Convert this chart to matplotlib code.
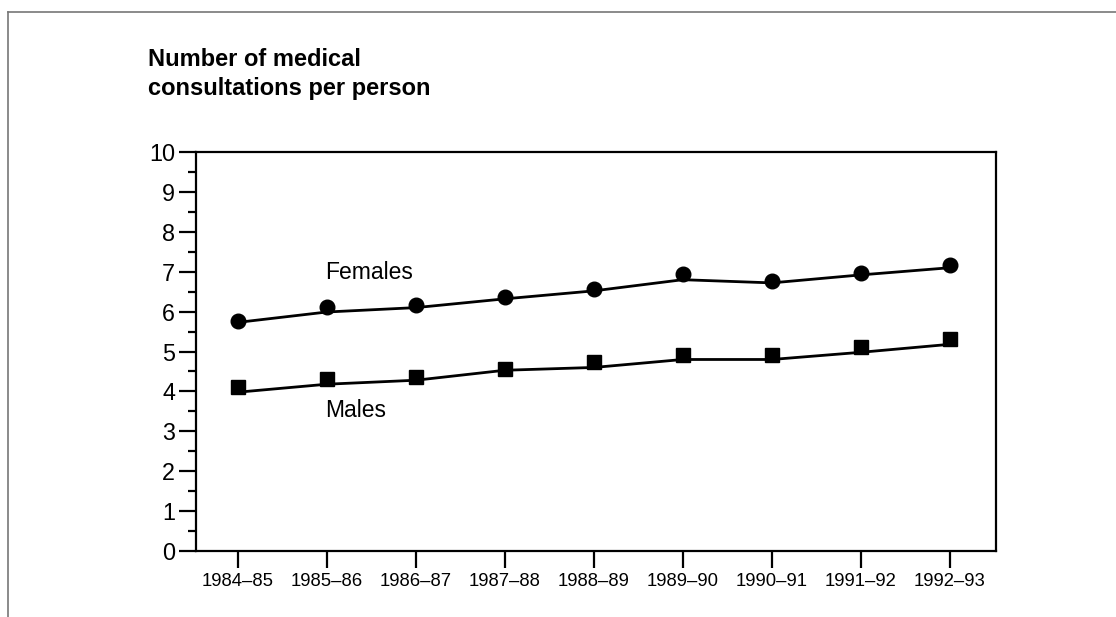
import numpy as np
import matplotlib.pyplot as plt
from matplotlib.lines import Line2D
from matplotlib.ticker import MultipleLocator

plt.rcParams['font.family'] = ['Liberation Sans', 'DejaVu Sans']

years = ['1984–85', '1985–86', '1986–87', '1987–88', '1988–89',
         '1989–90', '1990–91', '1991–92', '1992–93']

# line (trend) values and plotted point values
females_line = [5.73, 5.99, 6.10, 6.32, 6.52, 6.80, 6.72, 6.92, 7.10]
females_pts = [5.77, 6.12, 6.17, 6.36, 6.57, 6.95, 6.77, 6.98, 7.17]
males_line = [3.98, 4.18, 4.28, 4.53, 4.60, 4.80, 4.80, 4.98, 5.18]
males_pts = [4.12, 4.32, 4.36, 4.57, 4.73, 4.92, 4.92, 5.12, 5.32]

x = np.arange(len(years))

fig = plt.figure(figsize=(11.16, 6.17), dpi=100)
ax = fig.add_axes([0.1756, 0.107, 0.7169, 0.6466])

ax.plot(x, females_line, color='black', lw=2, solid_joinstyle='miter')
ax.plot(x, females_pts, 'o', color='black', ms=10.5)
ax.plot(x, males_line, color='black', lw=2, solid_joinstyle='miter')
ax.plot(x, males_pts, 's', color='black', ms=10)

ax.text(0.98, 6.98, 'Females', fontsize=16.5, ha='left', va='center')
ax.text(0.98, 3.53, 'Males', fontsize=16.5, ha='left', va='center')

ax.set_xlim(-0.47, 8.52)
ax.set_ylim(0, 10)
ax.set_xticks(x)
ax.set_xticklabels(years, fontsize=13.3)
ax.yaxis.set_major_locator(MultipleLocator(1))
ax.yaxis.set_minor_locator(MultipleLocator(0.5))
ax.tick_params(axis='y', which='major', length=12, width=1.6, pad=3, labelsize=16.8)
ax.tick_params(axis='y', which='minor', length=6, width=1.6)
ax.tick_params(axis='x', which='major', length=12, width=1.6, pad=4)
for s in ax.spines.values():
    s.set_linewidth(1.6)

fig.text(0.1326, 0.922, 'Number of medical\nconsultations per person',
         fontsize=17, fontweight='bold', ha='left', va='top', linespacing=1.35)

# outer frame lines (top and left)
fig.add_artist(Line2D([0.007, 1.0], [0.981, 0.981], color='#777777', lw=1.2))
fig.add_artist(Line2D([0.007, 0.007], [0.0, 0.981], color='#777777', lw=1.2))

fig.savefig('out.png', dpi=100)
